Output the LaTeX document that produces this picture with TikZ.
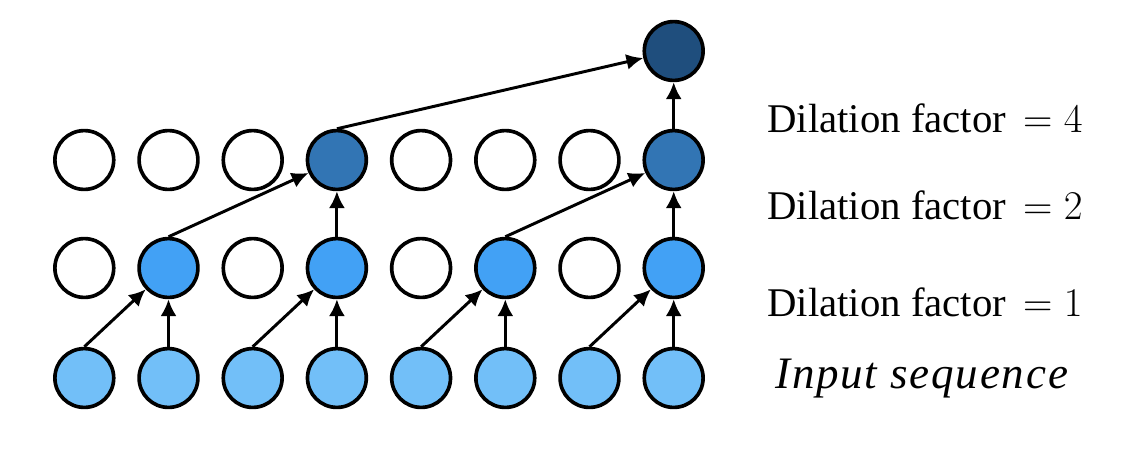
\documentclass[tikz,border=0pt]{standalone}
\usepackage{fix-cm}
\usepackage{fontspec}
\setmainfont{Liberation Serif}
\newfontfamily\seqfont[LetterSpace=4]{Liberation Serif}
\usetikzlibrary{arrows.meta}

\definecolor{inblue}{RGB}{114,191,248}
\definecolor{hidblue}{RGB}{66,161,245}
\definecolor{midblue}{RGB}{50,117,180}
\definecolor{outblue}{RGB}{31,78,125}

\tikzset{
    unit/.style={circle, draw=black, line width=2.6pt, minimum size=1.47cm, inner sep=0pt},
    link/.style={-{Latex[length=0.42cm, width=0.4cm]}, line width=2.1pt},
    dlabel/.style={anchor=base west, inner sep=0pt, font=\fontsize{29}{34}\selectfont}
}

\begin{document}
\begin{tikzpicture}[x=0.025cm, y=-0.025cm]
    % 画布大小
    \useasboundingbox (0,0) rectangle (1124,450);

    % 输入序列
    \foreach \i in {1,...,8}
        \node[unit, fill=inblue] (in\i) at ({84.3+84.2*(\i-1)}, 378) {};

    % 第一隐藏层
    \foreach \i in {1,3,5,7}
        \node[unit] (ha\i) at ({84.3+84.2*(\i-1)}, 268) {};
    \foreach \i in {2,4,6,8}
        \node[unit, fill=hidblue] (ha\i) at ({84.3+84.2*(\i-1)}, 268) {};

    % 第二隐藏层
    \foreach \i in {1,2,3,5,6,7}
        \node[unit] (hb\i) at ({84.3+84.2*(\i-1)}, 160) {};
    \foreach \i in {4,8}
        \node[unit, fill=midblue] (hb\i) at ({84.3+84.2*(\i-1)}, 160) {};

    % 输出
    \node[unit, fill=outblue] (out) at ({84.3+84.2*7}, 51) {};

    % 膨胀系数 1 的连线
    \foreach \i/\j in {1/2,3/4,5/6,7/8} {
        \draw[link] (in\i.north) -- (ha\j);
        \draw[link] (in\j.north) -- (ha\j);
    }

    % 膨胀系数 2 的连线
    \foreach \i/\j in {2/4,6/8} {
        \draw[link] (ha\i.north) -- (hb\j);
        \draw[link] (ha\j.north) -- (hb\j);
    }

    % 膨胀系数 4 的连线
    \draw[link] (hb4.north) -- (out);
    \draw[link] (hb8.north) -- (out);

    % 右侧文字
    \node[dlabel] (lab4) at (767,132) {Dilation factor $\,=4$};
    \node[dlabel] (lab2) at (767,219) {Dilation factor $\,=2$};
    \node[dlabel] (lab1) at (767,316) {Dilation factor $\,=1$};
    \node[dlabel] (labin) at (775,388) {\fontsize{32}{36}\seqfont\itshape Input sequence};
\end{tikzpicture}
\end{document}
